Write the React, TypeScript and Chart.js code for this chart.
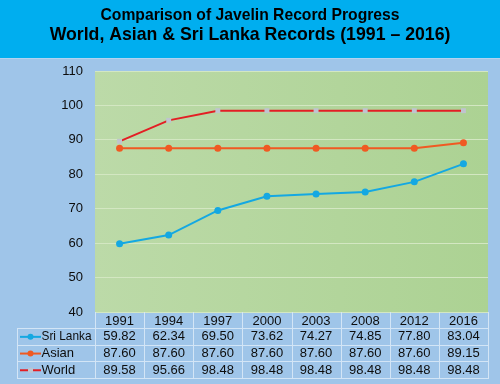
import React, { useEffect, useRef } from "react";
import { Chart, registerables } from "chart.js";

Chart.register(...registerables);

const years = ["1991", "1994", "1997", "2000", "2003", "2008", "2012", "2016"];
const sriLanka = [59.82, 62.34, 69.5, 73.62, 74.27, 74.85, 77.8, 83.04];
const asian = [87.6, 87.6, 87.6, 87.6, 87.6, 87.6, 87.6, 89.15];
const world = [89.58, 95.66, 98.48, 98.48, 98.48, 98.48, 98.48, 98.48];
const yTicks = [40, 50, 60, 70, 80, 90, 100, 110];

const titleLine1 = "Comparison of Javelin Record Progress";
const titleLine2 = "World, Asian & Sri Lanka Records (1991 – 2016)";

const FONT = "'Liberation Sans', Arial, sans-serif";
const C_SRI = "#14a8e2";
const C_ASIAN = "#f05a22";
const C_WORLD = "#e31e24";
const C_WORLD_PT = "#bfc4cf";
const TXT = "#0d0d0d";

const bgPlugin = {
  id: "bgPlugin",
  beforeDraw(chart: any) {
    const { ctx, width, chartArea } = chart;
    ctx.save();
    ctx.fillStyle = "#9fc5e9";
    ctx.fillRect(0, 0, width, chart.height);
    ctx.fillStyle = "#00aeef";
    ctx.fillRect(0, 0, width, 58);
    ctx.fillStyle = "#b3d3f0";
    ctx.fillRect(0, 58, width, 1);
    const g = ctx.createLinearGradient(chartArea.left, 0, chartArea.right, 0);
    g.addColorStop(0, "#bcdaa8");
    g.addColorStop(1, "#acd293");
    ctx.fillStyle = g;
    ctx.fillRect(chartArea.left, chartArea.top, chartArea.right - chartArea.left, chartArea.bottom - chartArea.top);
    ctx.restore();
  },
};

const tablePlugin = {
  id: "tablePlugin",
  afterDraw(chart: any) {
    const { ctx, chartArea } = chart;
    const xs = chart.scales.x;
    const n = years.length;
    const colW = (chartArea.right - chartArea.left) / n;
    const top = chartArea.bottom;
    const headerBottom = top + 16;
    const rowH = 16.7;
    const tableLeft = 17;
    const rows = [
      { label: "Sri Lanka", data: sriLanka, color: C_SRI, pt: C_SRI, square: false },
      { label: "Asian", data: asian, color: C_ASIAN, pt: C_ASIAN, square: false },
      { label: "World", data: world, color: C_WORLD, pt: C_WORLD_PT, square: true },
    ];
    const bottom = headerBottom + rowH * rows.length;
    ctx.save();
    ctx.strokeStyle = "#d3e5f6";
    ctx.lineWidth = 1;
    ctx.beginPath();
    for (let i = 0; i <= n; i++) {
      const x = Math.round(chartArea.left + i * colW) + 0.5;
      ctx.moveTo(x, top);
      ctx.lineTo(x, bottom);
    }
    ctx.moveTo(tableLeft + 0.5, headerBottom);
    ctx.lineTo(tableLeft + 0.5, bottom);
    for (let r = 0; r <= rows.length; r++) {
      const y = Math.round(headerBottom + r * rowH) + 0.5;
      ctx.moveTo(tableLeft, y);
      ctx.lineTo(chartArea.right + 1, y);
    }
    ctx.stroke();

    ctx.font = `13px ${FONT}`;
    ctx.textBaseline = "middle";
    rows.forEach((row, r) => {
      const cy = headerBottom + r * rowH + rowH / 2 + 0.5;
      ctx.strokeStyle = row.color;
      ctx.lineWidth = 2;
      ctx.beginPath();
      ctx.moveTo(20, cy);
      ctx.lineTo(41, cy);
      ctx.stroke();
      ctx.fillStyle = row.pt;
      if (row.square) {
        ctx.fillRect(28, cy - 2.5, 5, 5);
      } else {
        ctx.beginPath();
        ctx.arc(30.5, cy, 3, 0, Math.PI * 2);
        ctx.fill();
      }
      ctx.fillStyle = TXT;
      ctx.textAlign = "left";
      ctx.fillText(row.label, 41.5, cy, 50);
      ctx.textAlign = "center";
      row.data.forEach((v, i) => {
        ctx.fillText(v.toFixed(2), xs.getPixelForValue(i), cy);
      });
    });
    ctx.restore();
  },
};

export default function App() {
  const ref = useRef<HTMLCanvasElement>(null);
  useEffect(() => {
    document.body.style.margin = "0";
    const chart = new Chart(ref.current as HTMLCanvasElement, {
      type: "line",
      data: {
        labels: years,
        datasets: [
          {
            label: "Sri Lanka",
            data: sriLanka,
            borderColor: C_SRI,
            backgroundColor: C_SRI,
            borderWidth: 2,
            pointRadius: 3.5,
            pointBackgroundColor: C_SRI,
            pointBorderWidth: 0,
            tension: 0,
          },
          {
            label: "Asian",
            data: asian,
            borderColor: C_ASIAN,
            backgroundColor: C_ASIAN,
            borderWidth: 2,
            pointRadius: 3.5,
            pointBackgroundColor: C_ASIAN,
            pointBorderWidth: 0,
            tension: 0,
          },
          {
            label: "World",
            data: world,
            borderColor: C_WORLD,
            backgroundColor: C_WORLD_PT,
            borderWidth: 2,
            pointStyle: "rect",
            pointRadius: 3.5,
            pointBackgroundColor: C_WORLD_PT,
            pointBorderWidth: 0,
            tension: 0,
          },
        ],
      },
      options: {
        animation: false,
        responsive: true,
        maintainAspectRatio: false,
        layout: { padding: { top: 0, left: 0, right: 0, bottom: 55 } },
        plugins: {
          legend: { display: false },
          tooltip: { enabled: false },
          title: {
            display: true,
            text: titleLine1,
            color: "#000",
            font: { family: FONT, size: 15.7, weight: "bold", lineHeight: 1.3 },
            padding: { top: 5.5, bottom: 0 },
          },
          subtitle: {
            display: true,
            text: titleLine2,
            color: "#000",
            font: { family: FONT, size: 17.7, weight: "bold", lineHeight: 1.0 },
            padding: { top: 0, bottom: 27.4 },
          },
        },
        scales: {
          x: {
            offset: true,
            grid: { display: false, drawTicks: false },
            border: { display: false },
            ticks: { color: TXT, font: { family: FONT, size: 13 }, padding: 2 },
            afterFit: (s: any) => {
              s.height = 17;
            },
          },
          y: {
            min: 40,
            max: 110,
            afterBuildTicks: (s: any) => {
              s.ticks = yTicks.map((v) => ({ value: v }));
            },
            grid: { color: "#d3e7c2", lineWidth: 1, drawTicks: false },
            border: { display: false },
            ticks: { color: TXT, font: { family: FONT, size: 13 }, padding: 12 },
            afterFit: (s: any) => {
              s.width = 95;
            },
          },
          yRight: {
            position: "right",
            display: true,
            min: 40,
            max: 110,
            grid: { display: false, drawTicks: false },
            border: { display: false },
            ticks: { display: false },
            afterFit: (s: any) => {
              s.width = 12;
            },
          },
        },
      },
      plugins: [bgPlugin, tablePlugin],
    });
    return () => chart.destroy();
  }, []);
  return (
    <div style={{ position: "relative", width: 500, height: 384 }}>
      <canvas ref={ref} />
    </div>
  );
}
